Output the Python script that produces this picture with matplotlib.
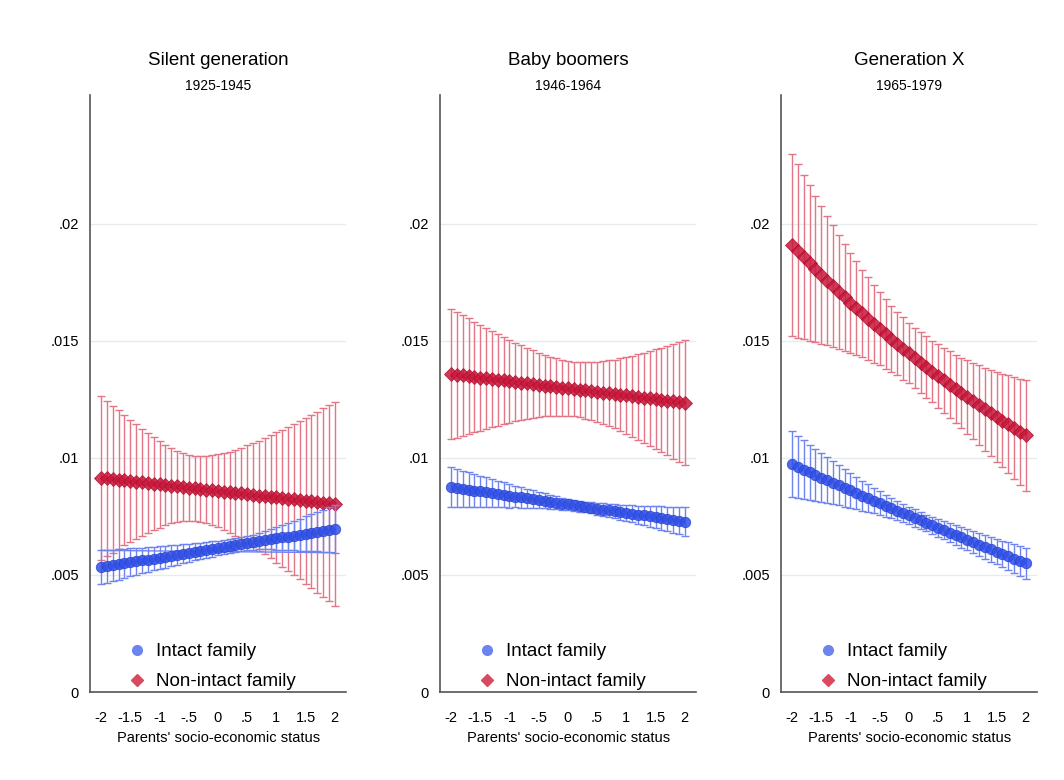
import numpy as np
import matplotlib
matplotlib.use('Agg')
import matplotlib.pyplot as plt
from matplotlib.lines import Line2D

plt.rcParams['font.family'] = ['Liberation Sans', 'DejaVu Sans']

# parents' SES grid (x axis), 41 points
ses = np.linspace(-2, 2, 41)

titles = ['Silent generation', 'Baby boomers', 'Generation X']
cohorts = ['1925-1945', '1946-1964', '1965-1979']
xticks = [-2, -1.5, -1, -.5, 0, .5, 1, 1.5, 2]
xticklabels = ['-2', '-1.5', '-1', '-.5', '0', '.5', '1', '1.5', '2']
yticks = [0, .005, .01, .015, .02]
yticklabels = ['0', '.005', '.01', '.015', '.02']

# all values below in units of 1e-4
## silent generation
silent_intact = [53.3, 53.7, 54.1, 54.5, 54.9, 55.4, 55.8, 56.2, 56.6, 57.0, 57.4,
                 57.8, 58.2, 58.6, 59.0, 59.5, 59.9, 60.3, 60.7, 61.1, 61.5,
                 61.9, 62.3, 62.7, 63.1, 63.6, 64.0, 64.4, 64.8, 65.2, 65.6,
                 66.0, 66.4, 66.8, 67.2, 67.7, 68.1, 68.5, 68.9, 69.3, 69.7]
silent_intact_ci = [7.20, 6.95, 6.70, 6.46, 6.22, 5.98, 5.75, 5.52, 5.29, 5.07, 4.85,
                    4.64, 4.44, 4.24, 4.05, 3.88, 3.71, 3.56, 3.42, 3.30, 3.19,
                    3.11, 3.05, 3.01, 3.00, 3.06, 3.24, 3.51, 3.87, 4.28, 4.73,
                    5.21, 5.72, 6.25, 6.79, 7.34, 7.90, 8.47, 9.04, 9.62, 10.20]
silent_nonintact = [91.5, 91.2, 90.9, 90.7, 90.4, 90.1, 89.8, 89.5, 89.3, 89.0, 88.7,
                    88.4, 88.1, 87.9, 87.6, 87.3, 87.0, 86.7, 86.5, 86.2, 85.9,
                    85.6, 85.3, 85.1, 84.8, 84.5, 84.2, 83.9, 83.7, 83.4, 83.1,
                    82.8, 82.5, 82.3, 82.0, 81.7, 81.4, 81.1, 80.9, 80.6, 80.3]
silent_nonintact_ci = [35.0, 33.2, 31.4, 29.6, 27.8, 26.1, 24.5, 22.8, 21.3, 19.8, 18.5,
                       17.2, 16.1, 15.2, 14.6, 14.1, 14.0, 14.1, 14.4, 14.9, 15.6,
                       16.4, 17.4, 18.4, 19.6, 20.8, 22.1, 23.5, 24.9, 26.3, 27.8,
                       29.2, 30.8, 32.3, 33.8, 35.4, 37.0, 38.6, 40.2, 41.8, 43.4]
## baby boomers
boomer_intact = [87.5, 87.1, 86.8, 86.4, 86.0, 85.7, 85.3, 84.9, 84.6, 84.2, 83.8,
                 83.5, 83.1, 82.7, 82.4, 82.0, 81.6, 81.3, 80.9, 80.5, 80.2,
                 79.8, 79.4, 79.0, 78.7, 78.3, 77.9, 77.6, 77.2, 76.8, 76.5,
                 76.1, 75.7, 75.4, 75.0, 74.6, 74.3, 73.9, 73.5, 73.2, 72.8]
boomer_intact_ci = [8.46, 8.11, 7.75, 7.40, 7.05, 6.70, 6.35, 6.01, 5.67, 5.34, 5.00,
                    4.68, 4.36, 4.05, 3.75, 3.46, 3.20, 2.95, 2.73, 2.55, 2.42,
                    2.33, 2.30, 2.32, 2.39, 2.49, 2.63, 2.80, 2.99, 3.21, 3.44,
                    3.68, 3.94, 4.20, 4.47, 4.75, 5.03, 5.31, 5.60, 5.90, 6.19]
boomer_nonintact = [135.8, 135.5, 135.2, 134.9, 134.6, 134.3, 134.0, 133.7, 133.4, 133.1, 132.8,
                    132.4, 132.1, 131.8, 131.5, 131.2, 130.9, 130.6, 130.3, 130.0, 129.7,
                    129.4, 129.1, 128.8, 128.5, 128.2, 127.9, 127.6, 127.3, 127.0, 126.7,
                    126.3, 126.0, 125.7, 125.4, 125.1, 124.8, 124.5, 124.2, 123.9, 123.6]
boomer_nonintact_ci = [27.9, 26.8, 25.7, 24.7, 23.6, 22.6, 21.5, 20.5, 19.6, 18.6, 17.7,
                       16.8, 16.0, 15.2, 14.4, 13.8, 13.2, 12.7, 12.2, 11.9, 11.8,
                       11.7, 11.8, 12.0, 12.3, 12.8, 13.3, 14.0, 14.7, 15.5, 16.3,
                       17.3, 18.2, 19.2, 20.2, 21.3, 22.3, 23.4, 24.5, 25.7, 26.8]
## generation x
genx_intact = [97.2, 96.1, 95.0, 93.8, 92.7, 91.6, 90.5, 89.4, 88.3, 87.2, 86.1,
               85.0, 83.9, 82.9, 81.8, 80.7, 79.6, 78.6, 77.5, 76.5, 75.4,
               74.3, 73.3, 72.2, 71.2, 70.1, 69.2, 68.1, 67.1, 66.0, 65.1,
               64.0, 63.0, 62.0, 60.9, 60.0, 59.0, 58.0, 57.0, 56.0, 55.0]
genx_intact_ci = [14.1, 13.3, 12.6, 11.9, 11.2, 10.5, 9.8, 9.2, 8.6, 8.0, 7.4,
                  6.9, 6.4, 5.9, 5.5, 5.1, 4.7, 4.4, 4.1, 3.9, 3.8,
                  3.7, 3.6, 3.6, 3.6, 3.7, 3.8, 3.9, 4.1, 4.3, 4.5,
                  4.7, 4.9, 5.1, 5.3, 5.5, 5.7, 5.9, 6.1, 6.4, 6.6]
genx_nonintact = [191.0, 188.4, 185.8, 183.2, 180.7, 178.2, 175.7, 173.3, 170.9, 168.6, 166.3,
                  164.0, 161.7, 159.5, 157.3, 155.1, 153.0, 150.9, 148.8, 146.7, 144.7,
                  142.7, 140.7, 138.8, 136.9, 135.0, 133.1, 131.3, 129.5, 127.7, 125.9,
                  124.2, 122.5, 120.8, 119.1, 117.5, 115.9, 114.3, 112.7, 111.1, 109.6]
genx_nonintact_ci = [39.0, 37.3, 35.2, 33.2, 31.2, 29.4, 27.6, 26.0, 24.4, 22.8, 21.3,
                     19.9, 18.7, 17.6, 16.6, 15.6, 14.9, 14.1, 13.6, 13.3, 12.9,
                     12.9, 12.9, 13.1, 13.2, 13.6, 13.9, 14.3, 14.6, 15.1, 15.7,
                     16.3, 17.0, 17.7, 18.4, 19.2, 20.0, 20.9, 21.8, 22.7, 23.7]

panels = [
    (silent_intact, silent_intact_ci, silent_nonintact, silent_nonintact_ci),
    (boomer_intact, boomer_intact_ci, boomer_nonintact, boomer_nonintact_ci),
    (genx_intact, genx_intact_ci, genx_nonintact, genx_nonintact_ci),
]

blue_bar = '#6f84ef'
blue_mk = '#3050e8'
red_bar = '#e27586'
red_mk = '#c8173b'

fig = plt.figure(figsize=(10.64, 7.8), dpi=100)
lefts = [0.0846, 0.4135, 0.734]

for k in range(3):
    ax = fig.add_axes([lefts[k], 0.1128, 0.241, 0.7654])
    b, bci, r, rci = [np.array(v) * 1e-4 for v in panels[k]]

    ax.errorbar(ses, r, yerr=rci, fmt='none', ecolor=red_bar, elinewidth=1.0,
                capsize=3, capthick=1.0, zorder=2)
    ax.plot(ses, r, 'D', ms=7, color=red_mk, mec='#b0102e', mew=0.6, alpha=0.85, zorder=3)
    ax.errorbar(ses, b, yerr=bci, fmt='none', ecolor=blue_bar, elinewidth=1.0,
                capsize=3, capthick=1.0, zorder=4)
    if k == 0:
        # stray line in the original (upper cap at -2 to lower cap at 2)
        ax.plot([ses[0], ses[-1]], [b[0] + bci[0], b[-1] - bci[-1]],
                color=blue_bar, lw=1.0, zorder=4)
    ax.plot(ses, b, 'o', ms=7.5, color=blue_mk, mec='#2a44cc', mew=0.6, alpha=0.85, zorder=5)

    ax.set_xlim(-2.19, 2.2)
    ax.set_ylim(0, 0.0255)
    ax.set_xticks(xticks)
    ax.set_xticklabels(xticklabels, fontsize=10.5)
    ax.set_yticks(yticks)
    ax.set_yticklabels(yticklabels, fontsize=10.5)
    ax.tick_params(axis='x', length=0, pad=14)
    ax.tick_params(axis='y', length=0, pad=8)
    ax.grid(axis='y', color='#e6ecee', lw=1.0, zorder=0)
    ax.set_axisbelow(True)
    for s in ['top', 'right']:
        ax.spines[s].set_visible(False)
    for s in ['left', 'bottom']:
        ax.spines[s].set_color('#555555')
        ax.spines[s].set_linewidth(1.2)
    ax.set_xlabel("Parents' socio-economic status", fontsize=10.5, labelpad=4)

    ax.text(0.5, 1.058, titles[k], transform=ax.transAxes, ha='center', va='center',
            fontsize=13.5)
    ax.text(0.5, 1.015, cohorts[k], transform=ax.transAxes, ha='center', va='center',
            fontsize=10)

    handles = [Line2D([], [], marker='o', ls='none', ms=7, color='#6d84ee'),
               Line2D([], [], marker='D', ls='none', ms=6.5, color='#d94a60')]
    ax.legend(handles, ['Intact family', 'Non-intact family'], loc='lower left',
              bbox_to_anchor=(0.06, -0.025), frameon=False, fontsize=13.5,
              handletextpad=0.2, labelspacing=0.68, handlelength=1.6)

fig.savefig('out.png', dpi=100, facecolor='white')
